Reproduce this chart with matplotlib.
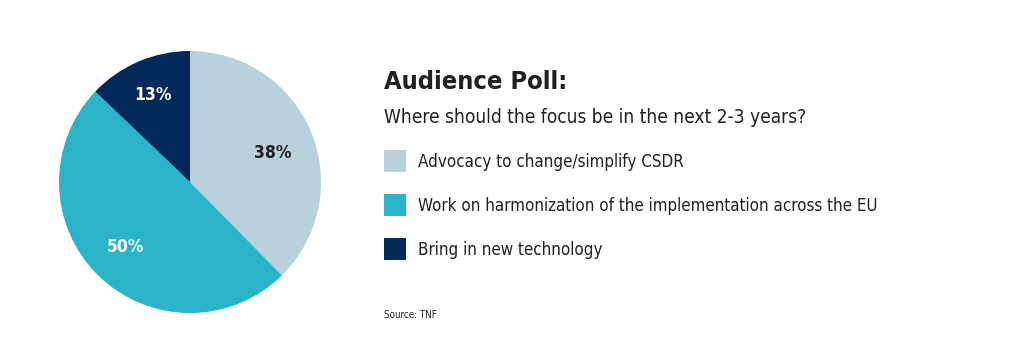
import numpy as np
import matplotlib
matplotlib.use("Agg")
from matplotlib import pyplot as plt
from matplotlib import font_manager
from matplotlib.patches import Rectangle

labels = ["Advocacy to change/simplify CSDR",
          "Work on harmonization of the implementation across the EU",
          "Bring in new technology"]
shares = [38, 50, 13]
colors = ["#b9d1db", "#29b4c9", "#02295a"]
text_colors = ["#231f20", "white", "white"]

condensed = [f for f in font_manager.fontManager.ttflist
             if f.name == "DejaVu Sans" and f.stretch == "condensed"]
stretch = "condensed" if condensed else "normal"
plt.rcParams['font.family'] = ['DejaVu Sans']
plt.rcParams['font.stretch'] = stretch

W, H = 1024, 360
fig = plt.figure(figsize=(W / 100, H / 100), dpi=100)

# pie centred at (190, 182) px, radius 131 px
cx, cy, r = 190, 182, 131
ax = fig.add_axes([(cx - r) / W, 1 - (cy + r) / H, 2 * r / W, 2 * r / H])
wedges, _ = ax.pie(shares, colors=colors, startangle=90, counterclock=False,
                   wedgeprops=dict(linewidth=0))
ax.set_xlim(-1, 1)
ax.set_ylim(-1, 1)
ax.set_aspect('equal')
ax.axis('off')

label_r = [0.67, 0.70, 0.72]
for w, s, tc, lr in zip(wedges, shares, text_colors, label_r):
    mid = np.deg2rad((w.theta1 + w.theta2) / 2 - 3 * (s == 38))
    ax.text(lr * np.cos(mid), lr * np.sin(mid), f"{s}%", ha='center', va='center',
            fontsize=12.5, fontweight='bold', color=tc)


def px(x, y):
    return x / W, 1 - y / H


fig.text(*px(384, 89), "Audience Poll:", fontsize=18.3, fontweight='bold',
         color="#231f20", va='baseline')
fig.text(*px(384, 123), "Where should the focus be in the next 2-3 years?",
         fontsize=13.7, color="#231f20", va='baseline')

box_tops = [150, 194, 238]
for top, lab, c in zip(box_tops, labels, colors):
    fig.patches.append(Rectangle(px(384, top + 22), 22 / W, 22 / H,
                                 transform=fig.transFigure, color=c, lw=0))
    fig.text(*px(418, top + 12), lab, fontsize=12.2, color="#231f20", va='center')

fig.text(*px(384, 318), "Source: TNF", fontsize=7, color="#231f20", va='baseline')

fig.savefig("out.png", dpi=100, facecolor="white")
